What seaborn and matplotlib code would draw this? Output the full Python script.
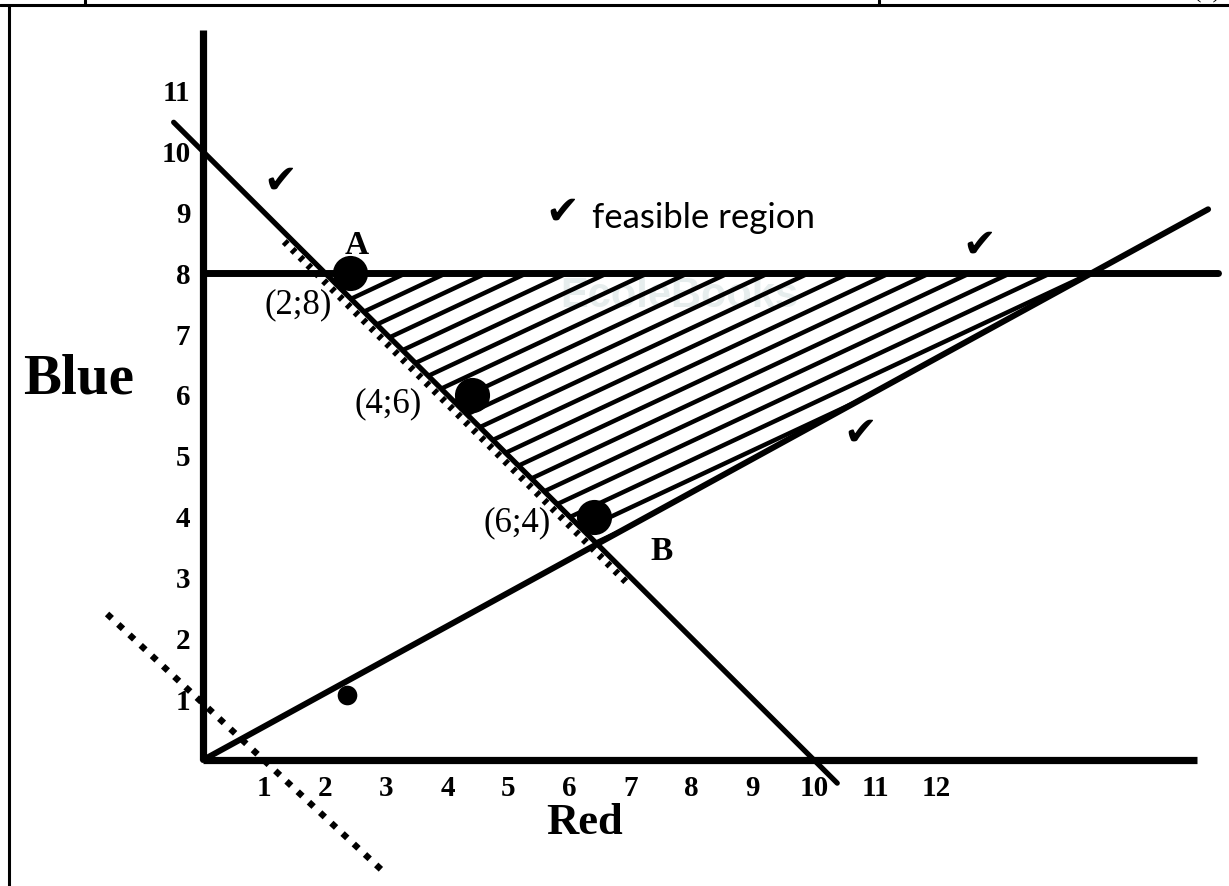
import numpy as np
import matplotlib
matplotlib.use("Agg")
import matplotlib.pyplot as plt
import seaborn as sns
from matplotlib.lines import Line2D
from matplotlib.patches import Polygon
from matplotlib.collections import LineCollection

# ---------------- data ----------------
x_ticks = [1, 2, 3, 4, 5, 6, 7, 8, 9, 10, 11, 12]
y_ticks = [1, 2, 3, 4, 5, 6, 7, 8, 9, 10, 11]

# constraint x + y = 10
c1_x = [-0.48, 10.38]
c1_y = [10.48, -0.38]
# constraint y = 8
c2_x = [0.0, 16.61]
c2_y = [8.0, 8.0]
# constraint y = 0.55 x
c3_slope = 0.55
c3_x = [0.0, 16.45]
c3_y = [0.0, 9.05]
# hatched boundary marker along x + y = 10
hb_x = [1.33, 6.93]
hb_y = [8.52, 2.92]
# isoprofit (search) line, dotted
iso_x = [-1.57, 2.98]
iso_y = [2.40, -1.86]

# marked points
pt_x = [2.4, 4.4, 6.4]
pt_y = [8.0, 6.0, 4.0]
pt_labels = ["(2;8)", "(4;6)", "(6;4)"]
small_x = [2.35]
small_y = [1.07]

# ---------------- figure ----------------
sns.set_theme(style="white")
plt.rcParams["font.family"] = ["Liberation Serif", "DejaVu Sans"]
plt.rcParams["text.color"] = "black"
plt.rcParams["xtick.labelcolor"] = "black"
plt.rcParams["ytick.labelcolor"] = "black"

W, H = 1229, 886
X0, Y0, SX, SY = 203, 760, 61.1, 60.85
fig = plt.figure(figsize=(W / 100, H / 100), dpi=100)
ax = fig.add_axes([0, 0, 1, 1])
ax.set_xlim(-X0 / SX, (W - X0) / SX)
ax.set_ylim(-(H - Y0) / SY, Y0 / SY)
ax.set_facecolor("white")

for s in ["top", "right"]:
    ax.spines[s].set_visible(False)
ax.spines["left"].set_position(("data", 0))
ax.spines["bottom"].set_position(("data", 0))
ax.spines["left"].set_bounds(0, 12.0)
ax.spines["bottom"].set_bounds(0, 16.27)
for s in ["left", "bottom"]:
    ax.spines[s].set_linewidth(5.2)
    ax.spines[s].set_color("black")
    ax.spines[s].set_capstyle("butt")

ax.set_xticks(x_ticks)
ax.set_yticks(y_ticks)
ax.set_xticklabels([str(v) for v in x_ticks])
ax.set_yticklabels([str(v) for v in y_ticks])
ax.tick_params(axis="both", direction="inout", length=18, width=2.9, color="black",
               labelcolor="black")
ax.tick_params(axis="x", pad=2, labelsize=21)
ax.tick_params(axis="y", pad=0, labelsize=21)
for lab in ax.get_xticklabels() + ax.get_yticklabels():
    lab.set_fontweight("bold")
    lab.set_fontfamily("Liberation Serif")
    lab.set_color("black")
ax.grid(False)

# watermark (faint)
ax.text(7.8, 7.62, "EcoleBooks", color="#e6eded", fontsize=30, ha="center",
        va="center", fontfamily="Liberation Sans", fontweight="bold", zorder=0)

# hatching of the feasible region (clipped to the triangle)
A0 = (c1_y[0] + c1_x[0] - c2_y[0], c2_y[0])          # x+y=10 with y=8
C0 = (c2_y[0] / c3_slope, c2_y[0])                     # y=0.55x with y=8
sum10 = c1_x[0] + c1_y[0]
B0 = (sum10 / (1 + c3_slope), sum10 * c3_slope / (1 + c3_slope))
poly = Polygon([A0, C0, B0], closed=True, transform=ax.transData,
               facecolor="none", edgecolor="none")
ax.add_patch(poly)
hatch_slope = 0.47
segs = [[(-1, -hatch_slope + c), (18, 18 * hatch_slope + c)]
        for c in np.arange(0.55, 7.6, 0.31)]
lc = LineCollection(segs, colors="black", linewidths=3.2, zorder=2)
ax.add_collection(lc)
lc.set_clip_path(poly)

# constraint lines
sns.lineplot(x=c1_x, y=c1_y, ax=ax, color="black", linewidth=3.8, sort=False,
             zorder=3)
sns.lineplot(x=c2_x, y=c2_y, ax=ax, color="black", linewidth=5.0, sort=False,
             zorder=3)
sns.lineplot(x=c3_x, y=c3_y, ax=ax, color="black", linewidth=4.3, sort=False,
             zorder=3)
ax.plot(hb_x, hb_y, color="black", linewidth=5.0, linestyle=(0, (0.6, 1.0)),
        solid_capstyle="butt", dash_capstyle="butt", zorder=3)
ax.plot(iso_x, iso_y, color="black", linewidth=4.6, linestyle=(0, (1.0, 1.4)),
        dash_capstyle="butt", zorder=3)

# points
sns.scatterplot(x=pt_x, y=pt_y, ax=ax, color="black", s=640, edgecolor="black",
                linewidth=0, zorder=5)
sns.scatterplot(x=small_x, y=small_y, ax=ax, color="black", s=200,
                edgecolor="black", linewidth=0, zorder=5)

# labels
ax.text(2.52, 8.46, "A", fontsize=24, fontweight="bold", ha="center", va="center")
ax.text(7.51, 3.43, "B", fontsize=24, fontweight="bold", ha="center", va="center")
lab_pos = [(1.55, 7.48), (3.03, 5.85), (5.14, 3.89)]
for (lx, ly), t in zip(lab_pos, pt_labels):
    ax.text(lx, ly, t, fontsize=25, ha="center", va="center")

ax.text(-2.03, 6.26, "Blue", fontsize=41, fontweight="bold", ha="center", va="center")
ax.text(6.25, -1.04, "Red", fontsize=32, fontweight="bold", ha="center", va="center")

# check marks and feasible region note
for cx, cy in [(1.26, 9.5), (12.7, 8.46), (10.75, 5.37), (5.88, 9.0)]:
    ax.text(cx, cy, "\u2714", fontsize=29, ha="center", va="center",
            fontfamily="DejaVu Sans", color="black")
ax.text(6.37, 8.9, "feasible region", fontsize=25, ha="left", va="center",
        fontfamily="Lato", color="black")

# page / table borders
fig.add_artist(Line2D([0, 1], [1 - 5 / H, 1 - 5 / H], transform=fig.transFigure,
                      color="black", lw=2.2))
fig.add_artist(Line2D([8.5 / W, 8.5 / W], [0, 1 - 5 / H], transform=fig.transFigure,
                      color="black", lw=2.2))
for xv in [85, 879]:
    fig.add_artist(Line2D([xv / W, xv / W], [1 - 5 / H, 1], transform=fig.transFigure,
                          color="black", lw=2.2))
fig.text(1207 / W, 1 + 2 / H, "(1)", ha="center", va="baseline", fontsize=16,
         fontfamily="Liberation Serif")

fig.savefig("out.png", dpi=100, facecolor="white")
